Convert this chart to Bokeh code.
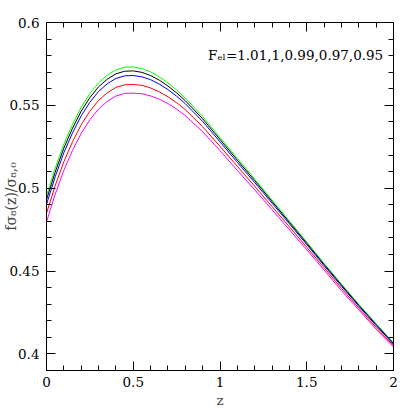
from bokeh.plotting import figure
from bokeh.models import LinearAxis, FixedTicker, Label, Range1d, CustomLabelingPolicy
from bokeh.embed import file_html
from bokeh.resources import INLINE

# ---- data ----
z = [0.0, 0.05, 0.1, 0.15, 0.2, 0.25, 0.3, 0.35, 0.4, 0.45, 0.5, 0.55, 0.6, 0.65, 0.7,
     0.75, 0.8, 0.9, 1.0, 1.1, 1.2, 1.3, 1.4, 1.5, 1.6, 1.7, 1.8, 1.9, 2.0]
f_101 = [0.4954, 0.5121, 0.5266, 0.5386, 0.5489, 0.5571, 0.5636, 0.5682, 0.5714, 0.5730,
         0.5732, 0.5722, 0.5702, 0.5672, 0.5636, 0.5593, 0.5544, 0.5433, 0.5306, 0.5180,
         0.5056, 0.4929, 0.4802, 0.4675, 0.4546, 0.4422, 0.4299, 0.4182, 0.4067]
f_100 = [0.4930, 0.5097, 0.5242, 0.5362, 0.5465, 0.5547, 0.5612, 0.5658, 0.5690, 0.5706,
         0.5708, 0.5699, 0.5680, 0.5652, 0.5617, 0.5575, 0.5528, 0.5419, 0.5294, 0.5169,
         0.5046, 0.4920, 0.4794, 0.4668, 0.4540, 0.4416, 0.4294, 0.4177, 0.4063]
f_099 = [0.4902, 0.5069, 0.5214, 0.5334, 0.5437, 0.5519, 0.5584, 0.5630, 0.5662, 0.5678,
         0.5680, 0.5672, 0.5655, 0.5628, 0.5595, 0.5555, 0.5510, 0.5403, 0.5280, 0.5156,
         0.5034, 0.4910, 0.4785, 0.4660, 0.4533, 0.4409, 0.4288, 0.4171, 0.4058]
f_097 = [0.4848, 0.5015, 0.5160, 0.5280, 0.5383, 0.5465, 0.5530, 0.5576, 0.5608, 0.5624,
         0.5626, 0.5621, 0.5605, 0.5582, 0.5552, 0.5516, 0.5474, 0.5371, 0.5253, 0.5132,
         0.5012, 0.4889, 0.4767, 0.4644, 0.4520, 0.4396, 0.4277, 0.4160, 0.4049]
f_095 = [0.4796, 0.4963, 0.5108, 0.5228, 0.5331, 0.5413, 0.5478, 0.5524, 0.5556, 0.5572,
         0.5574, 0.5570, 0.5557, 0.5537, 0.5511, 0.5477, 0.5438, 0.5341, 0.5227, 0.5107,
         0.4990, 0.4870, 0.4749, 0.4629, 0.4506, 0.4382, 0.4266, 0.4149, 0.4041]
series = [f_101, f_100, f_099, f_097, f_095]
colors = ["#00ff00", "#000000", "#0000ff", "#ff0000", "#ff00ff"]

x_major = [0, 0.5, 1, 1.5, 2]
x_labels = ["0", "0.5", "1", "1.5", "2"]
x_minor = [0.1, 0.2, 0.3, 0.4, 0.6, 0.7, 0.8, 0.9, 1.1, 1.2, 1.3, 1.4, 1.6, 1.7, 1.8, 1.9]
y_major = [0.4, 0.45, 0.5, 0.55, 0.6]
y_labels = ["0.4", "0.45", "0.5", "0.55", "0.6"]
y_minor = [0.39, 0.41, 0.42, 0.43, 0.44, 0.46, 0.47, 0.48, 0.49, 0.51, 0.52, 0.53, 0.54,
           0.56, 0.57, 0.58, 0.59]

annotation = "Fₑₗ=1.01,1,0.99,0.97,0.95"
xlabel = "z"
ylabel = "fσ₈(z)/σ₈,₀"

FONT = "DejaVu Serif"
FS = "13.5px"

p = figure(width=410, height=410, x_range=Range1d(0, 2), y_range=Range1d(0.39, 0.6),
           output_backend="svg", toolbar_location=None,
           min_border_left=45, min_border_right=17, min_border_top=22, min_border_bottom=40,
           x_axis_location=None, y_axis_location=None)
p.xgrid.visible = False
p.ygrid.visible = False
p.outline_line_color = "black"
p.outline_line_width = 1
p.background_fill_color = "white"

hide_all = CustomLabelingPolicy(code="""
try { return new indices.constructor(indices.size) } catch (e) {}
try { for (const i of Array.from(indices)) { indices.unset(i) } } catch (e) {}
return indices
""")


def style(ax, major, minor, labels, show_labels):
    ax.ticker = FixedTicker(ticks=major, minor_ticks=minor)
    ax.major_label_overrides = {m: l for m, l in zip(major, labels)}
    ax.major_tick_in = 9
    ax.major_tick_out = 0
    ax.minor_tick_in = 5
    ax.minor_tick_out = 0
    ax.axis_line_color = "black"
    ax.major_tick_line_color = "black"
    ax.minor_tick_line_color = "black"
    ax.major_label_text_font = FONT
    ax.major_label_text_color = "black"
    if show_labels:
        ax.major_label_text_font_size = FS
    else:
        ax.major_label_text_font_size = "0px"
        ax.major_label_standoff = 0
        ax.major_label_policy = hide_all


xb = LinearAxis()
style(xb, x_major, x_minor, x_labels, True)
xb.major_label_standoff = 6
xb.axis_label = xlabel
xb.axis_label_text_font = FONT
xb.axis_label_text_font_style = "normal"
xb.axis_label_text_font_size = FS
xb.axis_label_standoff = 2
p.add_layout(xb, "below")

xt = LinearAxis()
style(xt, x_major, x_minor, x_labels, False)
p.add_layout(xt, "above")

yl = LinearAxis()
style(yl, y_major, y_minor, y_labels, True)
yl.major_label_standoff = 7
yl.axis_label = ylabel
yl.axis_label_text_font = FONT
yl.axis_label_text_font_style = "normal"
yl.axis_label_text_font_size = "14px"
yl.axis_label_standoff = -13
p.add_layout(yl, "left")

yr = LinearAxis()
style(yr, y_major, y_minor, y_labels, False)
p.add_layout(yr, "right")

for ys, c in zip(series, colors):
    p.line(z, ys, line_color=c, line_width=1)

p.add_layout(Label(x=0.931, y=0.5801, text=annotation, text_font=FONT, text_font_size=FS,
                   text_align="left", text_baseline="middle", text_color="black"))

open("out.html", "w").write(file_html(p, INLINE))
